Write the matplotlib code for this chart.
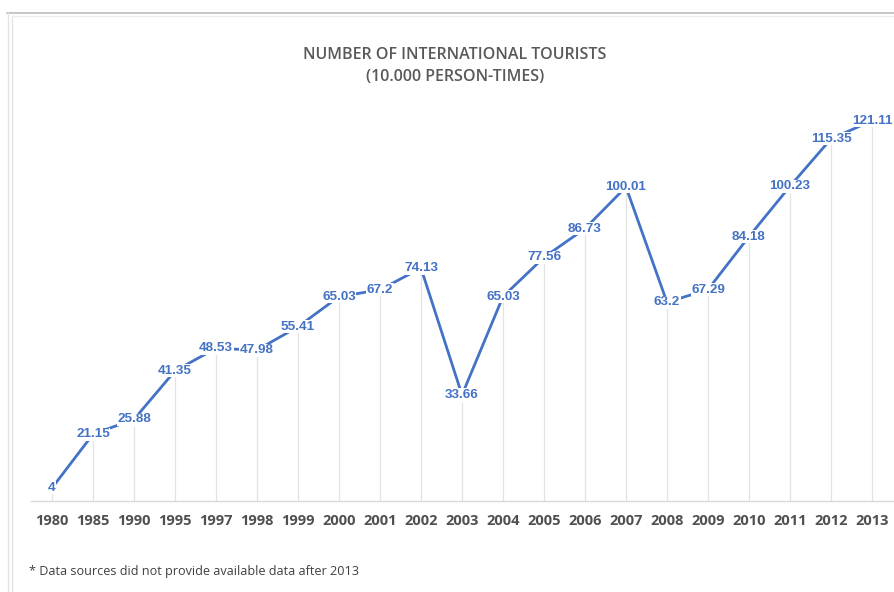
import matplotlib.pyplot as plt
from matplotlib.lines import Line2D

years = ["1980", "1985", "1990", "1995", "1997", "1998", "1999", "2000", "2001", "2002", "2003",
         "2004", "2005", "2006", "2007", "2008", "2009", "2010", "2011", "2012", "2013"]
tourists = [4, 21.15, 25.88, 41.35, 48.53, 47.98, 55.41, 65.03, 67.2, 74.13, 33.66,
            65.03, 77.56, 86.73, 100.01, 63.2, 67.29, 84.18, 100.23, 115.35, 121.11]
value_labels = ["4", "21.15", "25.88", "41.35", "48.53", "47.98", "55.41", "65.03", "67.2", "74.13", "33.66",
                "65.03", "77.56", "86.73", "100.01", "63.2", "67.29", "84.18", "100.23", "115.35", "121.11"]

blue = "#4472C4"
grey_text = "#595959"

W, H = 895, 592
fig = plt.figure(figsize=(W / 100, H / 100), dpi=100)
fig.patch.set_facecolor("white")

# window / chart borders
fig.add_artist(Line2D([7 / W, 1], [1 - 12.5 / H, 1 - 12.5 / H], color="#bdbdbd", lw=1.2))
fig.add_artist(Line2D([8 / W, 8 / W], [0, 1 - 12.5 / H], color="#e4e4e4", lw=1.0))
fig.add_artist(Line2D([12 / W, 12 / W], [0, 1 - 16 / H], color="#e4e4e4", lw=1.0))
fig.add_artist(Line2D([12 / W, 1], [1 - 16 / H, 1 - 16 / H], color="#ececec", lw=1.0))

ax = fig.add_axes([31.5 / W, (H - 500.5) / H, 861 / W, 407.6 / H])
x = list(range(len(years)))

# drop lines from the axis up to each point
ax.vlines(x, 0, tourists, color="#e3e3e3", lw=0.9, zorder=1)
ax.plot(x, tourists, color=blue, lw=2.0, zorder=2, solid_capstyle="round")

for xi, v, lab in zip(x, tourists, value_labels):
    ax.text(xi, v, lab, ha="center", va="center", fontsize=9.7, fontweight="bold",
            family="Liberation Sans", color=blue, zorder=3,
            bbox=dict(facecolor="white", edgecolor="none", pad=0.4))

ax.set_xlim(-0.5, len(years) - 0.5)
ax.set_ylim(0, 130)
ax.set_xticks(x)
ax.set_xticklabels(years, fontsize=10.5, fontweight="bold", family="Open Sans", color="#505050")
ax.tick_params(axis="x", length=0, pad=9.5)
ax.set_yticks([])
for side in ["top", "right", "left"]:
    ax.spines[side].set_visible(False)
ax.spines["bottom"].set_color("#d9d9d9")
ax.spines["bottom"].set_linewidth(1.0)

fig.text(455 / W, 1 - 55 / H, "NUMBER OF INTERNATIONAL TOURISTS", ha="center", va="center",
         fontsize=11.5, fontweight="semibold", family="Open Sans", color=grey_text)
fig.text(455 / W, 1 - 77 / H, "(10.000 PERSON-TIMES)", ha="center", va="center",
         fontsize=11.5, fontweight="semibold", family="Open Sans", color=grey_text)

fig.text(29 / W, 1 - 571 / H, "* Data sources did not provide available data after 2013",
         ha="left", va="center", fontsize=9.1, family="Open Sans", color="#404040")

fig.savefig("out.png", dpi=100, facecolor="white")
